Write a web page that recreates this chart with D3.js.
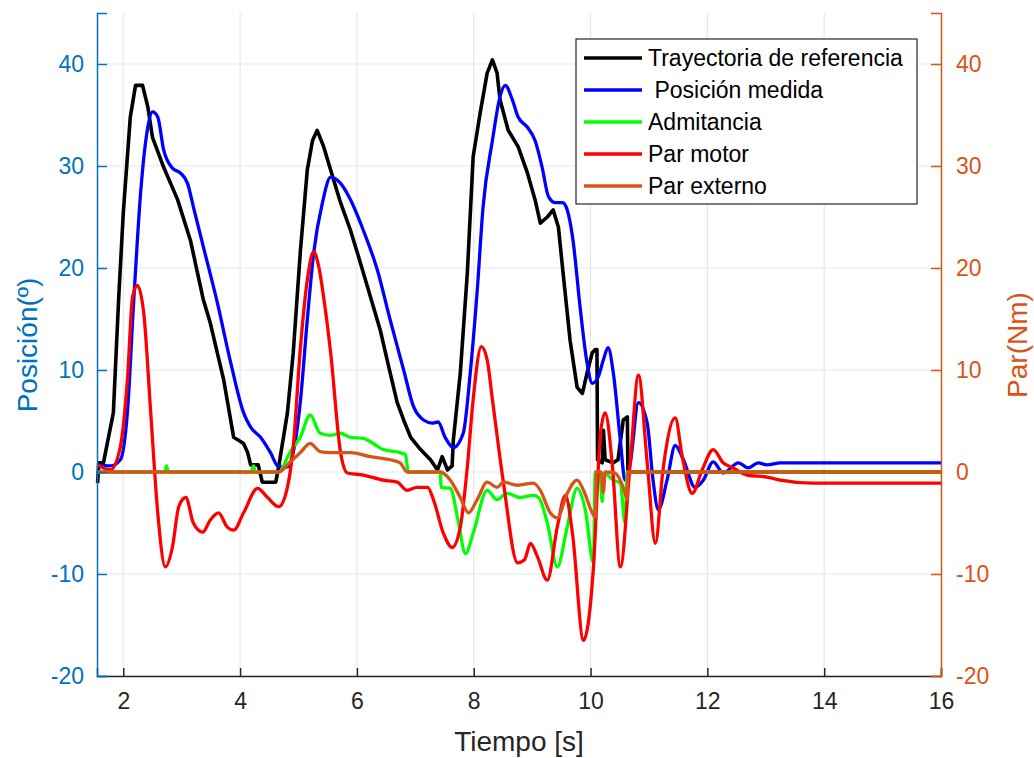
<!DOCTYPE html>
<html>
<head>
<meta charset="utf-8">
<script src="https://cdn.jsdelivr.net/npm/d3@7"></script>
<style>
  body { margin: 0; background: #fff; }
  text { font-family: "Liberation Sans", Arial, Helvetica, sans-serif; }
</style>
</head>
<body>
<div id="chart"></div>
<script>
// Series: [time (s), value]
const trayectoria = [
  [1.56, -1.1], [1.58, 0.9], [1.66, 0.9], [1.83, 5.8], [1.92, 16.9], [2.00, 25.4],
  [2.12, 34.8], [2.21, 37.9], [2.33, 37.9], [2.42, 35.8], [2.50, 32.8], [2.69, 29.9],
  [2.93, 26.7], [3.15, 22.7], [3.37, 16.9], [3.49, 14.6], [3.72, 9.0], [3.89, 3.4],
  [4.06, 2.8], [4.13, 1.9], [4.18, 0.7], [4.31, 0.7], [4.38, -1.0], [4.61, -1.0],
  [4.66, 0.5], [4.81, 5.8], [4.91, 11.7], [5.03, 21.5], [5.15, 29.6], [5.24, 32.5],
  [5.32, 33.5], [5.43, 31.9], [5.55, 29.6], [5.72, 26.4], [5.89, 23.7], [6.06, 20.5],
  [6.23, 17.2], [6.40, 13.9], [6.57, 9.7], [6.69, 6.8], [6.80, 5.1], [6.92, 3.4],
  [7.09, 2.2], [7.26, 1.2], [7.38, 0.2], [7.46, 1.5], [7.55, 0.2], [7.63, 0.6],
  [7.65, 3.1], [7.77, 9.7], [7.89, 19.5], [7.99, 30.9], [8.11, 35.2], [8.23, 39.1],
  [8.32, 40.4], [8.40, 39.1], [8.45, 36.5], [8.59, 33.5], [8.76, 31.9], [8.92, 29.3],
  [9.05, 26.7], [9.14, 24.4], [9.26, 25.0], [9.36, 25.7], [9.45, 24.0], [9.53, 19.5],
  [9.65, 12.9], [9.77, 8.3], [9.86, 7.7], [9.94, 9.7], [10.03, 11.7], [10.08, 12.0],
  [10.11, 12.0], [10.12, 1.2], [10.20, 0.9], [10.22, 4.1], [10.25, 1.2], [10.39, 0.9],
  [10.47, 1.2], [10.56, 5.1], [10.63, 5.4], [10.64, 0], [16.0, 0]
];

const posicion = [
  [1.56, 0.7], [1.78, 0.6], [1.95, 1.2], [2.07, 5.8], [2.18, 16.9], [2.30, 27.6],
  [2.42, 33.8], [2.50, 35.3], [2.59, 34.8], [2.69, 31.6], [2.84, 29.8], [2.98, 29.3],
  [3.10, 28.3], [3.20, 26.0], [3.37, 22.1], [3.61, 16.6], [3.84, 10.7], [4.06, 5.8],
  [4.18, 4.4], [4.35, 3.4], [4.52, 1.9], [4.66, 0.5], [4.81, 0.5], [4.86, 0.9],
  [5.03, 6.8], [5.15, 14.9], [5.26, 21.5], [5.41, 26.4], [5.55, 28.9], [5.72, 28.3],
  [5.89, 26.7], [6.11, 23.7], [6.35, 19.8], [6.57, 14.9], [6.80, 10.0], [6.97, 6.4],
  [7.14, 5.1], [7.29, 4.8], [7.39, 4.9], [7.51, 3.4], [7.65, 2.4], [7.82, 3.8],
  [7.94, 9.7], [8.06, 17.8], [8.16, 26.0], [8.32, 32.5], [8.45, 36.8], [8.54, 37.9],
  [8.66, 36.5], [8.76, 34.8], [8.92, 33.8], [9.05, 32.5], [9.17, 29.9], [9.28, 27.0],
  [9.40, 26.4], [9.52, 26.4], [9.60, 25.7], [9.70, 22.7], [9.82, 16.2], [9.94, 10.7],
  [10.03, 8.7], [10.13, 9.3], [10.22, 11.0], [10.30, 12.2], [10.39, 9.7], [10.51, 3.1],
  [10.59, -0.8], [10.68, 0.9], [10.82, 6.8], [10.97, 4.8], [11.07, -0.8], [11.16, -3.7],
  [11.31, -0.8], [11.45, 2.6], [11.59, 1.2], [11.79, -1.5], [11.93, -0.8], [12.10, 1.0],
  [12.27, -0.1], [12.53, 0.9], [12.70, 0.4], [12.87, 0.9], [13.02, 0.7], [13.25, 0.9],
  [16.0, 0.9]
];

const admitancia = [
  [1.56, 0], [2.71, 0], [2.74, 0.6], [2.77, 0], [4.19, 0], [4.23, 0.6], [4.26, 0],
  [4.66, 0], [4.86, 2.0], [5.03, 3.4], [5.20, 5.6], [5.37, 3.8], [5.55, 3.6],
  [5.72, 3.8], [5.89, 3.4], [6.11, 3.3], [6.28, 2.8], [6.45, 2.2], [6.74, 1.9],
  [6.83, 1.7], [6.88, 0], [7.43, 0], [7.44, -1.5], [7.60, -1.6], [7.72, -4.4],
  [7.86, -8.0], [7.99, -6.0], [8.23, -1.8], [8.40, -2.7], [8.57, -2.1], [8.80, -2.5],
  [9.02, -2.3], [9.11, -2.5], [9.26, -5.0], [9.43, -9.3], [9.60, -5.4], [9.77, -1.6],
  [9.91, -3.7], [10.05, -8.9], [10.08, 0], [10.16, -0.1], [10.20, -2.9], [10.23, -0.1],
  [10.39, -0.8], [10.51, -1.1], [10.59, -5.0], [10.63, 0], [16.0, 0]
];

const parMotor = [
  [1.56, 0.7], [1.78, 0.2], [1.95, 2.5], [2.07, 9.0], [2.16, 17.2], [2.24, 18.3],
  [2.35, 15.6], [2.47, 5.8], [2.59, -4.0], [2.72, -9.3], [2.84, -7.4], [2.95, -3.4],
  [3.07, -2.5], [3.20, -5.0], [3.36, -5.9], [3.49, -4.7], [3.63, -4.0], [3.78, -5.4],
  [3.89, -5.7], [4.06, -4.0], [4.30, -1.6], [4.47, -2.5], [4.66, -3.4], [4.81, -1.5],
  [4.91, 2.5], [5.03, 12.0], [5.15, 18.8], [5.26, 21.6], [5.34, 20.3], [5.46, 15.9],
  [5.55, 11.7], [5.72, 1.9], [5.84, -0.1], [6.11, -0.3], [6.45, -0.8], [6.69, -1.0],
  [6.86, -1.8], [7.03, -1.5], [7.21, -1.5], [7.31, -2.7], [7.48, -6.0], [7.63, -7.4],
  [7.77, -5.4], [7.89, 0.5], [7.99, 7.1], [8.13, 12.3], [8.23, 11.0], [8.32, 7.1],
  [8.51, -1.1], [8.75, -8.9], [8.87, -8.6], [8.97, -7.0], [9.09, -8.3], [9.26, -10.6],
  [9.43, -5.4], [9.57, -2.3], [9.69, -6.0], [9.88, -16.5], [10.05, -9.3], [10.17, 3.8],
  [10.25, 5.8], [10.37, 0.9], [10.51, -9.3], [10.68, 0.9], [10.82, 9.5], [10.97, 0.9],
  [11.11, -7.0], [11.24, 0.2], [11.45, 5.3], [11.57, 1.5], [11.74, -2.1], [11.91, 0.2],
  [12.10, 2.2], [12.27, 0.9], [12.44, 0.4], [12.68, -0.3], [13.02, -0.5], [13.25, -0.8],
  [13.81, -1.1], [16.0, -1.1]
];

const parExterno = [
  [1.56, 0], [4.66, 0], [4.86, 1.0], [5.03, 1.9], [5.20, 2.8], [5.37, 2.0], [5.55, 1.9],
  [5.89, 1.9], [6.23, 1.5], [6.57, 1.2], [6.74, 0.9], [6.86, 0], [7.43, 0], [7.60, -0.8],
  [7.77, -2.5], [7.91, -4.0], [8.06, -2.7], [8.23, -1.0], [8.40, -1.5], [8.51, -1.0],
  [8.75, -1.3], [9.02, -1.1], [9.14, -1.8], [9.31, -4.0], [9.43, -4.5], [9.60, -2.1],
  [9.77, -0.8], [9.88, -1.8], [10.03, -4.0], [10.08, -4.4], [10.10, 0], [10.18, 0],
  [10.22, -2.0], [10.25, 0], [10.42, -0.1], [10.56, -1.5], [10.63, -2.7], [10.64, 0],
  [16.0, 0]
];

const legendNames = ["Trayectoria de referencia", " Posición medida", "Admitancia", "Par motor", "Par externo"];
const legendColors = ["#000000", "#0000ff", "#00ff00", "#ff0000", "#d95319"];

const xTicks = [2, 4, 6, 8, 10, 12, 14, 16];
const yLeftTicks = [-20, -10, 0, 10, 20, 30, 40];
const yRightTicks = [-20, -10, 0, 10, 20, 30, 40];

// layout
const W = 1034, H = 758;
const margin = {top: 13, right: 93, bottom: 82, left: 97};
const width = W - margin.left - margin.right,
      height = H - margin.top - margin.bottom;

const blue = "#0072bd", orange = "#d95319", dark = "#262626";

const svg = d3.select("#chart").append("svg")
    .attr("width", W).attr("height", H);
const g = svg.append("g")
    .attr("transform", "translate(" + margin.left + "," + margin.top + ")");

const x = d3.scaleLinear().domain([1.55, 16]).range([0, width]);
const yL = d3.scaleLinear().domain([-20, 45]).range([height, 0]);
const yR = d3.scaleLinear().domain([-20, 45]).range([height, 0]);

// grid
g.append("g").selectAll("line").data(xTicks.filter(d => d < 16)).join("line")
    .attr("x1", d => x(d)).attr("x2", d => x(d))
    .attr("y1", 0).attr("y2", height)
    .attr("stroke", "#e3e3e3").attr("stroke-width", 1);
g.append("g").selectAll("line").data(yLeftTicks).join("line")
    .attr("x1", 0).attr("x2", width)
    .attr("y1", d => yL(d)).attr("y2", d => yL(d))
    .attr("stroke", "#dbe9f5").attr("stroke-width", 1);

// lines
const line = (yScale, curve) => d3.line()
    .x(d => x(d[0])).y(d => yScale(d[1])).curve(curve);

const series = [
  {data: trayectoria, color: legendColors[0], y: yL, curve: d3.curveLinear, w: 3.6},
  {data: posicion, color: legendColors[1], y: yL, curve: d3.curveMonotoneX, w: 3.3},
  {data: admitancia, color: legendColors[2], y: yL, curve: d3.curveMonotoneX, w: 3.3},
  {data: parMotor, color: legendColors[3], y: yR, curve: d3.curveMonotoneX, w: 3.3},
  {data: parExterno, color: legendColors[4], y: yR, curve: d3.curveMonotoneX, w: 3.3}
];
series.forEach(s => {
  g.append("path").datum(s.data)
    .attr("fill", "none")
    .attr("stroke", s.color)
    .attr("stroke-width", s.w)
    .attr("stroke-linejoin", "round")
    .attr("d", line(s.y, s.curve));
});

// axes
const fs = "23px";
const fmt = d => String(d);
const xAxis = g.append("g").attr("transform", "translate(0," + height + ")")
    .call(d3.axisBottom(x).tickValues(xTicks).tickSize(-8).tickPadding(17).tickFormat(fmt));
xAxis.select(".domain").attr("stroke", dark).attr("stroke-width", 1.5);
xAxis.selectAll(".tick line").attr("stroke", dark).attr("stroke-width", 1.5);
xAxis.selectAll("text").attr("fill", dark).style("font-size", fs).style("font-family", "Liberation Sans, Arial");

const leftAxis = g.append("g")
    .call(d3.axisLeft(yL).tickValues(yLeftTicks).tickSize(-10).tickPadding(13).tickFormat(fmt));
leftAxis.select(".domain").attr("stroke", blue).attr("stroke-width", 1.5);
leftAxis.selectAll(".tick line").attr("stroke", blue).attr("stroke-width", 1.5);
leftAxis.selectAll("text").attr("fill", blue).style("font-size", fs).style("font-family", "Liberation Sans, Arial");

const rightAxis = g.append("g").attr("transform", "translate(" + width + ",0)")
    .call(d3.axisRight(yR).tickValues(yRightTicks).tickSize(-10).tickPadding(15).tickFormat(fmt));
rightAxis.select(".domain").attr("stroke", orange).attr("stroke-width", 1.5);
rightAxis.selectAll(".tick line").attr("stroke", orange).attr("stroke-width", 1.5);
rightAxis.selectAll("text").attr("fill", orange).style("font-size", fs).style("font-family", "Liberation Sans, Arial");

// axis labels
svg.append("text").attr("x", margin.left + width / 2).attr("y", 751)
    .attr("text-anchor", "middle").attr("fill", dark).style("font-size", "28px")
    .text("Tiempo [s]");
svg.append("text").attr("transform", "translate(37,345) rotate(-90)")
    .attr("text-anchor", "middle").attr("fill", blue).style("font-size", "28px")
    .text("Posición(º)");
svg.append("text").attr("transform", "translate(1027,345) rotate(-90)")
    .attr("text-anchor", "middle").attr("fill", orange).style("font-size", "28px")
    .text("Par(Nm)");

// legend
const lg = svg.append("g").attr("transform", "translate(576,39)");
lg.append("rect").attr("width", 341).attr("height", 165)
    .attr("fill", "#fff").attr("stroke", dark).attr("stroke-width", 1.2);
legendNames.forEach((name, i) => {
  const yy = 19 + i * 32;
  lg.append("line").attr("x1", 8).attr("x2", 66).attr("y1", yy).attr("y2", yy)
    .attr("stroke", legendColors[i]).attr("stroke-width", 3.3);
  lg.append("text").attr("x", 72).attr("y", yy).attr("dy", "0.36em")
    .attr("fill", "#000").style("font-size", "23px").style("white-space", "pre")
    .text(name);
});
</script>
</body>
</html>
